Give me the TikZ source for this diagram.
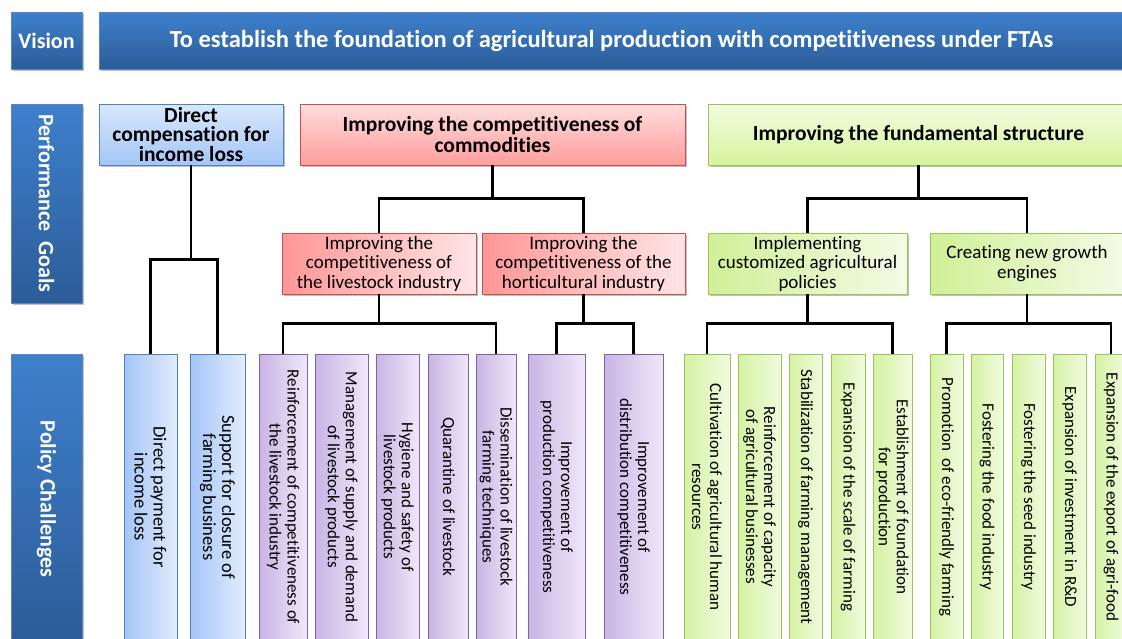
\documentclass[tikz,border=0pt]{standalone}
\usepackage{fontspec}
\setmainfont{Carlito}[Ligatures=NoCommon]
\usetikzlibrary{shadows}

\definecolor{sidetop}{RGB}{62,128,204}
\definecolor{sidebot}{RGB}{44,92,152}
\definecolor{sideedge}{RGB}{90,135,195}
\definecolor{blueedge}{RGB}{79,129,189}
\definecolor{redgoaltop}{RGB}{255,220,220}
\definecolor{redgoalbot}{RGB}{255,158,158}
\definecolor{rededge}{RGB}{200,80,77}
\definecolor{greenedge}{RGB}{155,195,89}
\definecolor{purpleedge}{RGB}{128,100,162}

\tikzset{
  box/.style={draw, line width=0.8pt, inner sep=1pt, align=center},
  shade box/.style={drop shadow={shadow xshift=1.5pt, shadow yshift=-2pt, opacity=0.25, fill=black}},
  side/.style={box, shade box, draw=sideedge, top color=sidetop, bottom color=sidebot, text=white,
    font=\bfseries\fontsize{22}{24}\selectfont},
  goal/.style={box, shade box, minimum height=61pt, inner sep=0pt, font=\bfseries\fontsize{21.5}{21}\selectfont},
  sub/.style={box, shade box, minimum height=61pt, inner sep=0pt, font=\fontsize{19}{19.5}\selectfont},
  task/.style={box, rotate=-90, minimum width=286pt, inner sep=0pt, font=\fontsize{17}{18}\selectfont},
  bluegoal/.style={draw=blueedge, top color={rgb,255:red,216;green,231;blue,252}, bottom color={rgb,255:red,164;green,198;blue,246}},
  redgoal/.style={draw=rededge, top color=redgoaltop, bottom color=redgoalbot},
  greengoal/.style={draw=greenedge, top color={rgb,255:red,242;green,252;blue,224}, bottom color={rgb,255:red,214;green,244;blue,158}},
  redsub/.style={draw=rededge, left color={rgb,255:red,255;green,150;blue,150}, right color={rgb,255:red,255;green,228;blue,228}},
  greensub/.style={draw=greenedge, left color={rgb,255:red,208;green,240;blue,150}, right color={rgb,255:red,243;green,251;blue,230}},
  bluetask/.style={draw=blueedge, right color={rgb,255:red,226;green,236;blue,252}, left color={rgb,255:red,164;green,197;blue,247},
    font=\fontsize{18.5}{19}\selectfont},
  purpletask/.style={draw=purpleedge, right color={rgb,255:red,239;green,232;blue,249}, left color={rgb,255:red,200;green,180;blue,228}},
  greentask/.style={draw=greenedge, right color={rgb,255:red,241;green,251;blue,224}, left color={rgb,255:red,212;green,242;blue,162}},
  link/.style={line width=2.2pt, black}
}

\begin{document}
\begin{tikzpicture}[x=1pt, y=-1pt]
  %%%%% FRAME %%%%%
  \useasboundingbox (0,0) rectangle (1122,638);
  \clip (0,0) rectangle (1122,638);

  %%%%% ROW LABELS %%%%%
  \node[side, minimum width=71pt, minimum height=57pt] (vis) at (46.5,40.5) {Vision};
  \node[side, minimum width=1025pt, minimum height=57pt, font=\bfseries\fontsize{24.5}{26}\selectfont] (aim) at (611.5,40.5)
    {To establish the foundation of agricultural production with competitiveness under FTAs};
  \node[side, rotate=-90, minimum width=199pt, minimum height=71pt]
    (perf) at (46.5,203.5) {Performance\ \ Goals};
  \node[side, rotate=-90, minimum width=290pt, minimum height=71pt]
    (pol) at (46.5,499) {Policy Challenges};

  %%%%% GOALS %%%%%
  \node[goal, bluegoal, minimum width=184pt, font=\bfseries\fontsize{21.5}{19.5}\selectfont] (dc) at (191,134.5)
    {Direct\\compensation for\\income loss};
  \node[goal, redgoal, minimum width=385pt] (com) at (492.5,134.5) {Improving the competitiveness of\\commodities};
  \node[goal, greengoal, minimum width=421pt] (fun) at (918.5,134.5) {Improving the fundamental structure};

  \node[sub, redsub, minimum width=194pt] (liv) at (379,263.5) {Improving the\\competitiveness of\\the livestock industry};
  \node[sub, redsub, minimum width=203pt] (hor) at (583.5,263.5) {Improving the\\competitiveness of the\\horticultural industry};
  \node[sub, greensub, minimum width=199pt] (cus) at (807.5,263.5) {Implementing\\customized agricultural\\policies};
  \node[sub, greensub, minimum width=194pt] (gro) at (1027,263.5) {Creating new growth\\engines};

  %%%%% POLICY CHALLENGES %%%%%
  \node[task, bluetask, minimum height=53pt] (b1) at (150.5,497) {Direct payment for\\income loss};
  \node[task, bluetask, minimum height=55pt] (b2) at (217.5,497) {Support for closure of\\farming business};

  \node[task, purpletask, minimum height=48pt] (p1) at (283,497) {Reinforcement of competitiveness of\\the livestock industry};
  \node[task, purpletask, minimum height=53pt] (p2) at (341.5,497) {Management of supply and demand\\of livestock products};
  \node[task, purpletask, minimum height=43pt] (p3) at (397.5,497) {Hygiene and safety of\\livestock products};
  \node[task, purpletask, minimum height=40pt] (p4) at (448,497) {Quarantine of livestock};
  \node[task, purpletask, minimum height=40pt] (p5) at (496,497) {Dissemination of livestock\\farming techniques};
  \node[task, purpletask, minimum height=57pt] (p6) at (556.5,497) {Improvement of\\production competitiveness};
  \node[task, purpletask, minimum height=59pt] (p7) at (633.5,497) {Improvement of\\distribution competitiveness};

  \node[task, greentask, minimum height=46pt] (g1) at (707,497) {Cultivation of agricultural human\\resources};
  \node[task, greentask, minimum height=43pt] (g2) at (759.5,497) {Reinforcement of capacity\\of agricultural businesses};
  \node[task, greentask, minimum height=33pt] (g3) at (805.5,497) {Stabilization of farming management};
  \node[task, greentask, minimum height=34pt] (g4) at (848,497) {Expansion of the scale of farming};
  \node[task, greentask, minimum height=39pt] (g5) at (892.5,497) {Establishment of foundation\\for production};
  \node[task, greentask, minimum height=33pt] (g6) at (946.5,497) {Promotion\ \ of eco-friendly farming};
  \node[task, greentask, minimum height=32pt] (g7) at (987,497) {Fostering the food industry};
  \node[task, greentask, minimum height=33pt] (g8) at (1028.5,497) {Fostering the seed industry};
  \node[task, greentask, minimum height=33pt] (g9) at (1069.5,497) {Expansion of investment in R\&D};
  \node[task, greentask, minimum height=32pt] (g10) at (1111,497) {Expansion of the export of agri-food};

  %%%%% LINKS %%%%%
  \draw[link] (dc.south) -- ++(0,94) coordinate (j1);
  \draw[link] (b1.west) |- (j1) -| (b2.west);

  \draw[link] (com.south) -- ++(0,33) coordinate (j2);
  \draw[link] (liv.north) |- (j2) -| (hor.north);
  \draw[link] (fun.south) -- ++(0,33) coordinate (j3);
  \draw[link] (cus.north) |- (j3) -| (gro.north);

  \draw[link] (liv.south) -- ++(0,29) coordinate (j4);
  \draw[link] (p1.west) |- (j4) -| (p5.west);
  \draw[link] (hor.south) -- ++(0,29) coordinate (j5);
  \draw[link] (p6.west) |- (j5) -| (p7.west);
  \draw[link] (cus.south) -- ++(0,29) coordinate (j6);
  \draw[link] (g1.west) |- (j6) -| (g5.west);
  \draw[link] (gro.south) -- ++(0,29) coordinate (j7);
  \draw[link] (g6.west) |- (j7) -| (g10.west);
\end{tikzpicture}
\end{document}
